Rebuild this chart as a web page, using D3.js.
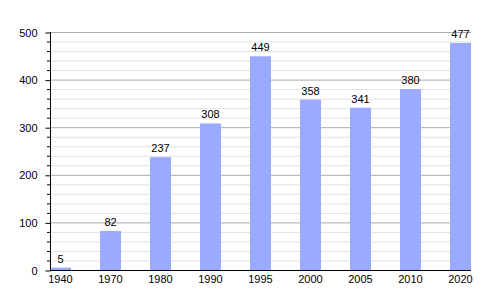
<!DOCTYPE html>
<html>
<head>
<meta charset="utf-8">
<script src="https://cdn.jsdelivr.net/npm/d3@7"></script>
<style>
  body { margin: 0; background: #fff; }
  text { font-family: "Liberation Sans", Arial, sans-serif; font-size: 11px; fill: #000; }
</style>
</head>
<body>
<div id="chart"></div>
<script>
// data
var years = ["1940", "1970", "1980", "1990", "1995", "2000", "2005", "2010", "2020"];
var values = [5, 82, 237, 308, 449, 358, 341, 380, 477];
var yTicks = [0, 100, 200, 300, 400, 500];

var width = 500, height = 300;

var svg = d3.select("#chart")
    .append("svg")
    .attr("width", width)
    .attr("height", height);

// scales
var x = d3.scaleBand()
    .domain(years)
    .range([50, 500]);
var barW = x.bandwidth() * 0.42;
var plotRight = x(years[years.length - 1]) + barW;

var y = d3.scaleLinear()
    .domain([0, 500])
    .range([270, 32]);

// minor grid lines every 20
var minor = d3.range(20, 501, 20).filter(function (d) { return d % 100 !== 0; });
svg.append("g")
    .selectAll("line")
    .data(minor)
    .enter()
    .append("line")
    .attr("x1", 50).attr("x2", plotRight)
    .attr("y1", function (d) { return y(d) + 0.5; })
    .attr("y2", function (d) { return y(d) + 0.5; })
    .attr("stroke", "#e2e2e2");

// major grid lines
svg.append("g")
    .selectAll("line")
    .data(yTicks.slice(1))
    .enter()
    .append("line")
    .attr("x1", 50).attr("x2", plotRight)
    .attr("y1", function (d) { return y(d) + 0.5; })
    .attr("y2", function (d) { return y(d) + 0.5; })
    .attr("stroke", "#aaaaaa");

// bars
svg.append("g")
    .selectAll("rect")
    .data(values)
    .enter()
    .append("rect")
    .attr("x", function (d, i) { return x(years[i]); })
    .attr("y", function (d) { return y(d); })
    .attr("width", barW)
    .attr("height", function (d) { return y(0) - y(d); })
    .attr("fill", "#99aaff");

// value labels
svg.append("g")
    .selectAll("text")
    .data(values)
    .enter()
    .append("text")
    .attr("x", function (d, i) { return x(years[i]) + barW / 2; })
    .attr("y", function (d) { return y(d) - 5; })
    .attr("text-anchor", "middle")
    .text(function (d) { return d; });

// left axis: minor ticks
svg.append("g")
    .selectAll("line")
    .data(minor)
    .enter()
    .append("line")
    .attr("x1", 47).attr("x2", 50)
    .attr("y1", function (d) { return y(d) + 0.5; })
    .attr("y2", function (d) { return y(d) + 0.5; })
    .attr("stroke", "#000");

// left axis with major ticks
var yAxis = svg.append("g")
    .attr("transform", "translate(50.5,0.5)")
    .call(d3.axisLeft(y).tickValues(yTicks).tickSize(5).tickPadding(8));
yAxis.select(".domain").attr("stroke", "#000").attr("d", "M0," + (y(500) - 0.5) + "V" + y(0));
yAxis.selectAll("text").style("font-size", "11px").attr("font-family", null);

// bottom axis line
svg.append("line")
    .attr("x1", 50).attr("x2", plotRight)
    .attr("y1", y(0) + 0.5).attr("y2", y(0) + 0.5)
    .attr("stroke", "#000");

// category labels
svg.append("g")
    .selectAll("text")
    .data(years)
    .enter()
    .append("text")
    .attr("x", function (d) { return x(d) + barW / 2; })
    .attr("y", 283)
    .attr("text-anchor", "middle")
    .text(function (d) { return d; });
</script>
</body>
</html>
